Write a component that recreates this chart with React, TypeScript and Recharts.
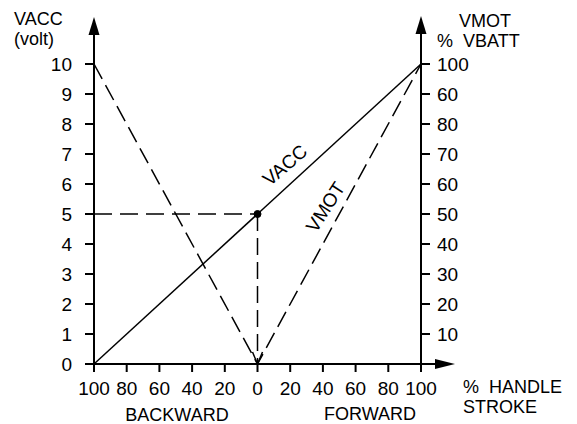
import React from 'react';
import { ComposedChart, Line, XAxis, YAxis, ReferenceLine, ReferenceDot } from 'recharts';

// handle stroke: negative = backward, positive = forward
const handleStroke = [-100, 0, 100];
const vaccVolts = [0, 5, 10];
const vmotPercent = [100, 0, 100];

const strokeTicks = [-100, -80, -60, -40, -20, 0, 20, 40, 60, 80, 100];
const vaccTicks = [0, 1, 2, 3, 4, 5, 6, 7, 8, 9, 10];
const vmotTicks = [0, 10, 20, 30, 40, 50, 60, 70, 80, 90, 100];
// labels as printed on the original drawing (90 reads "60")
const vmotTickLabels = ['', '10', '20', '30', '40', '50', '60', '70', '80', '60', '100'];

const data = handleStroke.map((s, i) => ({ stroke: s, vacc: vaccVolts[i], vmot: vmotPercent[i] }));

const FONT = '"Liberation Sans", Arial, sans-serif';
const INK = '#000';

// filled arrowhead, tip at (cx, cy)
const ArrowUp = (props: any) => {
  const { cx, cy } = props;
  return <polygon points={`${cx},${cy} ${cx - 5.5},${cy + 18} ${cx + 5.5},${cy + 18}`} fill={INK} />;
};
const ArrowRight = (props: any) => {
  const { cx, cy } = props;
  return <polygon points={`${cx},${cy} ${cx - 20},${cy - 5} ${cx - 20},${cy + 5}`} fill={INK} />;
};
// open arrow pointing down
const ArrowDownOpen = (props: any) => {
  const { cx, cy } = props;
  return <path d={`M${cx - 5},${cy - 12} L${cx},${cy} L${cx + 5},${cy - 12}`} stroke={INK} strokeWidth={1.5} fill="none" />;
};

const RotLabel = (text: string, angle: number) => (props: any) => {
  const { cx, cy } = props;
  return (
    <text x={cx} y={cy} textAnchor="middle" dominantBaseline="central" fontFamily={FONT} fontSize={19}
      fill={INK} transform={`rotate(${angle} ${cx} ${cy})`}>{text}</text>
  );
};

const tickStyle = { fontFamily: FONT, fontSize: 19, fill: INK };
const titleProps = { fontFamily: FONT, fontSize: 18, fill: INK };

export default function App() {
  return (
    <div style={{ position: 'absolute', left: 0, top: 0, background: '#fff' }}>
      <ComposedChart width={577} height={424} data={data} margin={{ top: 64, right: 0, bottom: 0, left: 0 }}>
        <XAxis dataKey="stroke" type="number" domain={[-100, 100]} ticks={strokeTicks}
          tickFormatter={(v: number) => String(Math.abs(v))} height={60}
          stroke={INK} strokeWidth={2} tickSize={8} tickMargin={10} tick={tickStyle} interval={0} />
        <YAxis yAxisId="left" type="number" domain={[0, 10]} ticks={vaccTicks} width={94}
          stroke={INK} strokeWidth={2} tickSize={9} tickMargin={13} tick={tickStyle} interval={0} />
        <YAxis yAxisId="right" orientation="right" type="number" domain={[0, 100]} ticks={vmotTicks} width={156}
          tickFormatter={(v: number) => vmotTickLabels[vmotTicks.indexOf(v)]}
          stroke={INK} strokeWidth={2} tickSize={9} tickMargin={7}
          tick={{ ...tickStyle, textAnchor: 'start' }} interval={0} />

        {/* axis extensions with arrowheads */}
        <ReferenceLine yAxisId="left" segment={[{ x: -100, y: 10 }, { x: -100, y: 11.2 }]} stroke={INK} strokeWidth={2} ifOverflow="visible" />
        <ReferenceLine yAxisId="left" segment={[{ x: 100, y: 10 }, { x: 100, y: 11.2 }]} stroke={INK} strokeWidth={2} ifOverflow="visible" />
        <ReferenceLine yAxisId="left" segment={[{ x: 100, y: 0 }, { x: 112, y: 0 }]} stroke={INK} strokeWidth={2} ifOverflow="visible" />
        <ReferenceDot yAxisId="left" x={-100} y={11.57} ifOverflow="visible" shape={ArrowUp} />
        <ReferenceDot yAxisId="left" x={100} y={11.6} ifOverflow="visible" shape={ArrowUp} />
        <ReferenceDot yAxisId="left" x={120.8} y={0} ifOverflow="visible" shape={ArrowRight} />

        {/* operating point guides */}
        <ReferenceLine yAxisId="left" segment={[{ x: -100, y: 5 }, { x: 0, y: 5 }]} stroke={INK} strokeWidth={1.5} strokeDasharray="18 8" ifOverflow="visible" />
        <ReferenceLine yAxisId="left" segment={[{ x: 0, y: 5 }, { x: 0, y: 0 }]} stroke={INK} strokeWidth={1.5} strokeDasharray="17 7" ifOverflow="visible" />
        <ReferenceDot yAxisId="left" x={0} y={0} ifOverflow="visible" shape={ArrowDownOpen} />

        <Line yAxisId="left" dataKey="vacc" stroke={INK} strokeWidth={1.5} dot={false} isAnimationActive={false} />
        <Line yAxisId="right" dataKey="vmot" stroke={INK} strokeWidth={1.5} strokeDasharray="17 7" dot={false} isAnimationActive={false} />
        <ReferenceDot yAxisId="left" x={0} y={5} r={3.5} fill={INK} stroke={INK} ifOverflow="visible" />

        <ReferenceDot yAxisId="left" x={16.8} y={6.63} ifOverflow="visible" shape={RotLabel('VACC', -41)} />
        <ReferenceDot yAxisId="left" x={41.6} y={5.23} ifOverflow="visible" shape={RotLabel('VMOT', -57)} />

        <text x={14} y={25} {...titleProps}>VACC</text>
        <text x={14} y={45} {...titleProps}>(volt)</text>
        <text x={459} y={27} {...titleProps}>VMOT</text>
        <text x={437} y={47} {...titleProps} style={{ whiteSpace: 'pre' }}>%  VBATT</text>
        <text x={463} y={393} {...titleProps} style={{ whiteSpace: 'pre' }}>%  HANDLE</text>
        <text x={463} y={413} {...titleProps}>STROKE</text>
        <text x={177} y={421} textAnchor="middle" {...titleProps}>BACKWARD</text>
        <text x={370} y={420} textAnchor="middle" {...titleProps}>FORWARD</text>
      </ComposedChart>
    </div>
  );
}
